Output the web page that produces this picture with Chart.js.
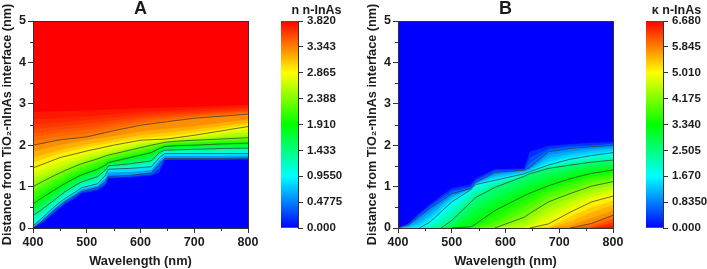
<!DOCTYPE html>
<html>
<head>
<meta charset="utf-8">
<title>n and k of n-InAs</title>
<script src="https://cdn.jsdelivr.net/npm/chart.js@4"></script>
<style>
  html, body { margin: 0; padding: 0; background: #fff; }
  body { width: 707px; height: 269px; overflow: hidden; position: relative; }
  .box { position: absolute; top: 0; height: 269px; }
</style>
</head>
<body>
<div class="box" style="left:0;width:262px"><canvas id="chartA"></canvas></div>
<div class="box" style="left:227px;width:125px"><canvas id="barA"></canvas></div>
<div class="box" style="left:365px;width:262px"><canvas id="chartB"></canvas></div>
<div class="box" style="left:602px;width:105px"><canvas id="barB"></canvas></div>
<script>
// ===== axes =====
const xTicks = [400, 500, 600, 700, 800];
const xMinor = [450, 550, 650, 750];
const yTicks = [0, 1, 2, 3, 4, 5];
const yMinor = [0.5, 1.5, 2.5, 3.5, 4.5];
const nMax = 3.82;
const nTicks = [0, 0.4775, 0.955, 1.4325, 1.91, 2.3875, 2.865, 3.3425, 3.82];
const nTickLabels = ['0.000', '0.4775', '0.9550', '1.433', '1.910', '2.388', '2.865', '3.343', '3.820'];
const kMax = 6.68;
const kTicks = [0, 0.835, 1.67, 2.505, 3.34, 4.175, 5.01, 5.845, 6.68];
const kTickLabels = ['0.000', '0.8350', '1.670', '2.505', '3.340', '4.175', '5.010', '5.845', '6.680'];

// colour map of both colour bars (blue, cyan, green, yellow, red)
const cmapColors = [[0, 0, 255], [0, 255, 255], [0, 255, 0], [255, 255, 0], [255, 0, 0]];

// ===== panel A: distance (nm) of each n contour =====
const nWl = [400, 420, 440, 460, 480, 490, 520, 535, 540, 580, 620, 635, 645, 670, 700, 750, 800];
const nWlTop = [400, 450, 500, 550, 600, 650, 700, 800];
const n012 = [0, .14, .36, .58, .72, .84, .9, 1.03, 1.2, 1.22, 1.26, 1.34, 1.64, 1.64, 1.64, 1.64, 1.65];
const n024 = [0, .17, .4, .61, .76, .86, .94, 1.07, 1.22, 1.24, 1.29, 1.44, 1.66, 1.66, 1.66, 1.66, 1.67];
const n048 = [0, .2, .44, .64, .8, .88, .98, 1.12, 1.25, 1.27, 1.33, 1.55, 1.68, 1.68, 1.68, 1.68, 1.69];
const n072 = [.03, .24, .48, .68, .84, .93, 1.02, 1.2, 1.34, 1.35, 1.4, 1.63, 1.74, 1.74, 1.74, 1.74, 1.75];
const n096 = [.05, .28, .52, .72, .88, .97, 1.07, 1.28, 1.42, 1.44, 1.48, 1.7, 1.8, 1.8, 1.8, 1.8, 1.8];
const n119 = [.18, .38, .6, .8, .96, 1.04, 1.15, 1.34, 1.46, 1.49, 1.55, 1.76, 1.84, 1.84, 1.85, 1.86, 1.87];
const n143 = [.3, .48, .68, .88, 1.04, 1.11, 1.24, 1.4, 1.5, 1.55, 1.62, 1.82, 1.88, 1.89, 1.9, 1.92, 1.93];
const n155 = [.37, .55, .74, .93, 1.08, 1.15, 1.28, 1.43, 1.52, 1.58, 1.67, 1.84, 1.9, 1.91, 1.93, 1.95, 1.96];
const n167 = [.44, .62, .8, .98, 1.12, 1.2, 1.33, 1.46, 1.54, 1.62, 1.72, 1.86, 1.92, 1.94, 1.96, 1.98, 1.99];
const n179 = [.51, .69, .86, 1.03, 1.17, 1.24, 1.38, 1.49, 1.56, 1.66, 1.77, 1.89, 1.945, 1.965, 1.98, 2, 2.02];
const n191 = [.58, .76, .92, 1.08, 1.22, 1.28, 1.42, 1.52, 1.58, 1.7, 1.82, 1.92, 1.97, 1.99, 2, 2.03, 2.05];
const n203 = [.69, .86, 1.01, 1.16, 1.29, 1.35, 1.48, 1.57, 1.62, 1.74, 1.86, 1.95, 1.995, 2.02, 2.03, 2.06, 2.08];
const n215 = [.8, .96, 1.1, 1.24, 1.36, 1.42, 1.55, 1.62, 1.67, 1.79, 1.91, 1.98, 2.02, 2.05, 2.06, 2.09, 2.12];
const n227 = [.9, 1.05, 1.18, 1.31, 1.43, 1.48, 1.61, 1.68, 1.71, 1.83, 1.95, 2.01, 2.045, 2.075, 2.09, 2.12, 2.15];
const n239 = [1, 1.14, 1.27, 1.39, 1.5, 1.55, 1.67, 1.74, 1.76, 1.88, 2, 2.04, 2.07, 2.1, 2.12, 2.15, 2.18];
const n251 = [1.11, 1.4, 1.65, 1.82, 1.98, 2.09, 2.145, 2.24];
const n263 = [1.22, 1.48, 1.7, 1.86, 2.02, 2.11, 2.17, 2.31];
const n275 = [1.33, 1.59, 1.78, 1.93, 2.07, 2.13, 2.2, 2.38];
const n287 = [1.45, 1.7, 1.86, 2, 2.12, 2.15, 2.24, 2.45];
const n299 = [1.58, 1.8, 1.95, 2.07, 2.17, 2.22, 2.3, 2.5];
const n310 = [1.7, 1.88, 2.02, 2.13, 2.24, 2.3, 2.38, 2.55];
const n322 = [1.85, 2, 2.12, 2.22, 2.33, 2.4, 2.46, 2.62];
const n334 = [2, 2.13, 2.2, 2.35, 2.48, 2.57, 2.65, 2.75];
const n340 = [2.1, 2.21, 2.28, 2.41, 2.53, 2.61, 2.68, 2.77];
const n346 = [2.2, 2.3, 2.37, 2.48, 2.58, 2.65, 2.72, 2.8];
const n352 = [2.3, 2.37, 2.44, 2.54, 2.63, 2.7, 2.75, 2.82];
const n358 = [2.4, 2.45, 2.52, 2.6, 2.68, 2.74, 2.78, 2.85];
const n364 = [2.51, 2.55, 2.61, 2.67, 2.74, 2.79, 2.82, 2.88];
const n370 = [2.62, 2.65, 2.7, 2.75, 2.8, 2.84, 2.87, 2.92];
const n376 = [2.8, 2.82, 2.84, 2.86, 2.89, 2.91, 2.93, 2.97];

// ===== panel B: distance (nm) of each k contour =====
const kWl = [400, 420, 440, 460, 480, 500, 535, 545, 580, 635, 645, 680, 720, 760, 800];
const k021 = [0, .12, .36, .58, .78, .96, 1.05, 1.2, 1.42, 1.44, 1.85, 1.98, 2.03, 2.06, 2.08];
const k042 = [0, .1, .33, .54, .73, .91, 1, 1.16, 1.39, 1.42, 1.7, 1.92, 1.98, 2, 2.04];
const k063 = [0, .09, .3, .5, .69, .87, .97, 1.13, 1.36, 1.41, 1.56, 1.88, 1.95, 1.98, 2.02];
const k084 = [0, .08, .28, .475, .65, .83, .95, 1.1, 1.34, 1.4, 1.46, 1.84, 1.92, 1.96, 2];
const k104 = [0, .05, .2, .39, .58, .77, .94, 1.09, 1.29, 1.38, 1.43, 1.76, 1.85, 1.91, 1.95];
const k125 = [0, .02, .13, .31, .52, .73, .94, 1.08, 1.25, 1.36, 1.41, 1.68, 1.79, 1.86, 1.91];
const k146 = [0, .01, .06, .23, .45, .68, .93, 1.06, 1.2, 1.33, 1.38, 1.6, 1.72, 1.8, 1.86];
const k167 = [0, 0, 0, .15, .39, .63, .92, 1.05, 1.15, 1.31, 1.36, 1.52, 1.66, 1.75, 1.82];
const k188 = [0, 0, 0, .08, .28, .51, .85, .97, 1.11, 1.29, 1.35, 1.5, 1.62, 1.71, 1.77];
const k209 = [0, 0, 0, .02, .18, .4, .78, .9, 1.07, 1.28, 1.34, 1.48, 1.59, 1.67, 1.73];
const k230 = [0, 0, 0, 0, .08, .29, .7, .82, 1.03, 1.27, 1.32, 1.46, 1.55, 1.63, 1.68];
const k251 = [0, 0, 0, 0, 0, .18, .62, .74, .98, 1.25, 1.31, 1.44, 1.52, 1.59, 1.64];
const k271 = [0, 0, 0, 0, 0, .09, .47, .58, .84, 1.14, 1.2, 1.34, 1.44, 1.52, 1.58];
const k292 = [0, 0, 0, 0, 0, .02, .32, .42, .7, 1.02, 1.08, 1.24, 1.36, 1.46, 1.52];
const k313 = [0, 0, 0, 0, 0, 0, .17, .26, .56, .9, .96, 1.13, 1.27, 1.39, 1.46];
const k334 = [0, 0, 0, 0, 0, 0, .03, .1, .42, .78, .84, 1.02, 1.19, 1.32, 1.4];
const k355 = [0, 0, 0, 0, 0, 0, 0, .03, .28, .65, .72, .93, 1.1, 1.24, 1.33];
const k376 = [0, 0, 0, 0, 0, 0, 0, 0, .14, .52, .6, .84, 1.02, 1.17, 1.26];
const k397 = [0, 0, 0, 0, 0, 0, 0, 0, .05, .39, .47, .73, .92, 1.09, 1.19];
const k418 = [0, 0, 0, 0, 0, 0, 0, 0, 0, .26, .35, .63, .83, 1.01, 1.12];
const k438 = [0, 0, 0, 0, 0, 0, 0, 0, 0, .13, .22, .5, .72, .92, 1.03];
const k459 = [0, 0, 0, 0, 0, 0, 0, 0, 0, .02, .1, .37, .62, .83, .95];
const k480 = [0, 0, 0, 0, 0, 0, 0, 0, 0, 0, .04, .23, .5, .73, .86];
const k501 = [0, 0, 0, 0, 0, 0, 0, 0, 0, 0, 0, .1, .38, .63, .77];
const k522 = [0, 0, 0, 0, 0, 0, 0, 0, 0, 0, 0, .03, .27, .5, .66];
const k543 = [0, 0, 0, 0, 0, 0, 0, 0, 0, 0, 0, 0, .16, .38, .55];
const k564 = [0, 0, 0, 0, 0, 0, 0, 0, 0, 0, 0, 0, .06, .24, .43];
const k585 = [0, 0, 0, 0, 0, 0, 0, 0, 0, 0, 0, 0, 0, .11, .31];
const k605 = [0, 0, 0, 0, 0, 0, 0, 0, 0, 0, 0, 0, 0, .04, .22];
const k626 = [0, 0, 0, 0, 0, 0, 0, 0, 0, 0, 0, 0, 0, 0, .13];
const k647 = [0, 0, 0, 0, 0, 0, 0, 0, 0, 0, 0, 0, 0, 0, .05];

const TICK_COLOR = '#333';
const TEXT_COLOR = '#1c1c1c';
const FONT = 'Liberation Sans';

function cmap(t) {
  const p = Math.min(Math.max(t, 0), 1) * (cmapColors.length - 1);
  const i = Math.min(Math.floor(p), cmapColors.length - 2);
  const c = cmapColors[i].map((v, j) => Math.round(v + (cmapColors[i + 1][j] - v) * (p - i)));
  return `rgb(${c[0]},${c[1]},${c[2]})`;
}

function pts(wl, d) {
  return wl.map((x, i) => ({ x: x, y: d[i] }));
}

// frame round the plot and the short minor ticks
const framePlugin = {
  id: 'frame',
  afterDraw(chart) {
    const a = chart.chartArea, c = chart.ctx;
    c.save();
    c.strokeStyle = TICK_COLOR;
    c.lineWidth = 1;
    c.strokeRect(Math.round(a.left) + .5, Math.round(a.top) + .5, Math.round(a.width), Math.round(a.height));
    c.beginPath();
    xMinor.forEach(v => {
      const px = Math.round(chart.scales.x.getPixelForValue(v)) + .5;
      c.moveTo(px, a.bottom); c.lineTo(px, a.bottom + 3);
    });
    yMinor.forEach(v => {
      const py = Math.round(chart.scales.y.getPixelForValue(v)) + .5;
      c.moveTo(a.left, py); c.lineTo(a.left - 3, py);
    });
    c.stroke();
    c.restore();
  }
};

// layers are painted back to front, each filling down to the axis
function renderContour(id, title, background, layers, lines) {
  const total = layers.length + lines.length + 1;
  let order = total;
  const datasets = [{
    data: pts([400, 800], [5, 5]),
    backgroundColor: background, fill: 'start', borderWidth: 0, pointRadius: 0, order: order--
  }];
  layers.forEach(l => datasets.push({
    data: pts(l.wl, l.d),
    backgroundColor: l.color, fill: 'start', borderWidth: 0, pointRadius: 0, tension: 0, order: order--
  }));
  lines.forEach(l => datasets.push({
    data: pts(l.wl, l.d),
    fill: false, pointRadius: 0, tension: 0, borderWidth: 0.9,
    borderColor: 'rgba(55,55,55,0.8)',
    segment: { borderColor: ctx => (ctx.p0.parsed.y === 0 && ctx.p1.parsed.y === 0) ? 'transparent' : undefined },
    order: order--
  }));

  new Chart(document.getElementById(id), {
    type: 'line',
    data: { datasets: datasets },
    plugins: [framePlugin],
    options: {
      responsive: true,
      maintainAspectRatio: false,
      animation: false,
      layout: { padding: { right: 14 } },
      plugins: {
        legend: { display: false },
        tooltip: { enabled: false },
        title: {
          display: true, text: title, fullSize: false, color: TEXT_COLOR,
          font: { family: FONT, size: 18, weight: 'bold', lineHeight: 1 },
          padding: { top: 0, bottom: 3 }
        }
      },
      scales: {
        x: {
          type: 'linear', min: 400, max: 800,
          afterBuildTicks: s => { s.ticks = xTicks.map(v => ({ value: v })); },
          afterFit: s => { s.height = 41; },
          ticks: { color: TEXT_COLOR, maxRotation: 0, padding: 2, font: { family: FONT, size: 12.5, weight: 'bold' } },
          grid: { drawOnChartArea: false, tickLength: 5, tickColor: TICK_COLOR },
          border: { color: TICK_COLOR },
          title: {
            display: true, text: 'Wavelength (nm)', color: TEXT_COLOR, padding: 0,
            font: { family: FONT, size: 12.8, weight: 'bold' }
          }
        },
        y: {
          min: 0, max: 5,
          afterBuildTicks: s => { s.ticks = yTicks.map(v => ({ value: v })); },
          afterFit: s => { s.width = 33; },
          ticks: { color: TEXT_COLOR, padding: 2, font: { family: FONT, size: 12.5, weight: 'bold' } },
          grid: { drawOnChartArea: false, tickLength: 5, tickColor: TICK_COLOR },
          border: { color: TICK_COLOR },
          title: {
            display: true, text: 'Distance from TiO\u2082-nInAs interface (nm)', color: TEXT_COLOR, padding: 0,
            font: { family: FONT, size: 12.7, weight: 'bold' }
          }
        }
      }
    }
  });
}

// each bar canvas is centred on its bar so the chart title lines up with it
function renderColorBar(id, title, maxVal, tickVals, tickLabels, leftPad, axisWidth) {
  new Chart(document.getElementById(id), {
    type: 'bar',
    data: {
      labels: [''],
      datasets: [{
        data: [[0, maxVal]],
        barPercentage: 1,
        categoryPercentage: 1,
        borderWidth: 0,
        backgroundColor: ctx => {
          const a = ctx.chart.chartArea;
          if (!a) return cmap(0);
          const g = ctx.chart.ctx.createLinearGradient(0, a.bottom, 0, a.top);
          cmapColors.forEach((c, i) => g.addColorStop(i / (cmapColors.length - 1), cmap(i / (cmapColors.length - 1))));
          return g;
        }
      }]
    },
    options: {
      responsive: true,
      maintainAspectRatio: false,
      animation: false,
      layout: { padding: { left: leftPad, bottom: 41 } },
      plugins: {
        legend: { display: false },
        tooltip: { enabled: false },
        title: {
          display: true, text: title, color: TEXT_COLOR,
          font: { family: FONT, size: 12.5, weight: 'bold', lineHeight: 1 },
          padding: { top: 4, bottom: 4.5 }
        }
      },
      scales: {
        x: { display: false },
        y: {
          position: 'right', min: 0, max: maxVal,
          afterBuildTicks: s => { s.ticks = tickVals.map(v => ({ value: v })); },
          afterFit: s => { s.width = axisWidth; },
          ticks: {
            color: TEXT_COLOR, padding: 4, font: { family: FONT, size: 11.5, weight: 'bold' },
            callback: (v, i) => tickLabels[i]
          },
          grid: { drawOnChartArea: false, tickLength: 5, tickColor: TICK_COLOR },
          border: { color: TICK_COLOR }
        }
      }
    }
  });
}

// ===== build panels =====
function initCharts() {
  const nLevels = [
    [.119, nWl, n012], [.239, nWl, n024], [.4775, nWl, n048], [.716, nWl, n072], [.955, nWl, n096],
    [1.194, nWl, n119], [1.4325, nWl, n143], [1.552, nWl, n155], [1.671, nWl, n167], [1.79, nWl, n179],
    [1.91, nWl, n191], [2.03, nWl, n203], [2.149, nWl, n215], [2.268, nWl, n227], [2.3875, nWl, n239],
    [2.507, nWlTop, n251], [2.626, nWlTop, n263], [2.746, nWlTop, n275], [2.865, nWlTop, n287], [2.985, nWlTop, n299],
    [3.104, nWlTop, n310], [3.223, nWlTop, n322], [3.3425, nWlTop, n334], [3.4, nWlTop, n340], [3.462, nWlTop, n346],
    [3.52, nWlTop, n352], [3.581, nWlTop, n358], [3.64, nWlTop, n364], [3.7, nWlTop, n370], [3.76, nWlTop, n376]
  ];
  const layersA = [];
  for (let i = nLevels.length - 1; i >= 0; i--) {
    const mid = i > 0 ? (nLevels[i - 1][0] + nLevels[i][0]) / 2 : 0;
    layersA.push({ wl: nLevels[i][1], d: nLevels[i][2], color: cmap(mid / nMax) });
  }
  const linesA = nLevels.filter(l => nTicks.includes(l[0])).map(l => ({ wl: l[1], d: l[2] }));
  renderContour('chartA', 'A', cmap(1), layersA, linesA);
  renderColorBar('barA', 'n n-InAs', nMax, nTicks, nTickLabels, 54, 54);

  const kLevels = [
    [.209, k021], [.418, k042], [.626, k063], [.835, k084], [1.044, k104], [1.2525, k125], [1.461, k146], [1.67, k167],
    [1.879, k188], [2.0875, k209], [2.296, k230], [2.505, k251], [2.714, k271], [2.9225, k292], [3.131, k313], [3.34, k334],
    [3.549, k355], [3.7575, k376], [3.966, k397], [4.175, k418], [4.384, k438], [4.5925, k459], [4.801, k480], [5.01, k501],
    [5.219, k522], [5.4275, k543], [5.636, k564], [5.845, k585], [6.054, k605], [6.2625, k626], [6.47, k647]
  ];
  const layersB = kLevels.map(l => ({ wl: kWl, d: l[1], color: cmap((l[0] + 0.1) / kMax) }));
  const linesB = kLevels.filter(l => kTicks.includes(l[0])).map(l => ({ wl: kWl, d: l[1] }));
  renderContour('chartB', 'B', cmap(0), layersB, linesB);
  renderColorBar('barB', '\u03ba n-InAs', kMax, kTicks, kTickLabels, 44, 44);
}

initCharts();
</script>
</body>
</html>
